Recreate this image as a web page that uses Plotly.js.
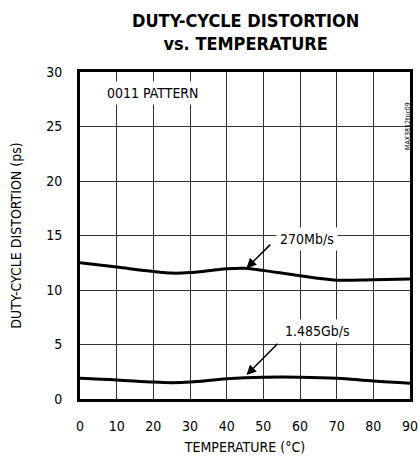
<!DOCTYPE html>
<html>
<head>
<meta charset="utf-8">
<script src="https://cdn.plot.ly/plotly-3.0.1.min.js"></script>
<style>html,body{margin:0;padding:0;background:#fff;}#chart{width:419px;height:460px;}</style>
</head>
<body>
<div id="chart"></div>
<script>
const temperature = [0, 10, 20, 25, 30, 40, 45, 50, 60, 70, 80, 90];
const dcd270 = [12.5, 12.1, 11.7, 11.55, 11.6, 11.95, 12.0, 11.8, 11.3, 10.9, 10.95, 11.0];
const dcd1485 = [1.9, 1.75, 1.55, 1.5, 1.55, 1.85, 1.95, 2.0, 2.0, 1.9, 1.65, 1.45];
const xTicks = [0, 10, 20, 30, 40, 50, 60, 70, 80, 90];
const yTicks = [0, 5, 10, 15, 20, 25, 30];

const FONT = "'Liberation Sans Narrow', 'DejaVu Sans Condensed', Roboto, sans-serif";

const traces = [
  {x: temperature, y: dcd270, mode: 'lines', line: {color: '#000', width: 3, shape: 'spline', smoothing: 1}, hoverinfo: 'skip'},
  {x: temperature, y: dcd1485, mode: 'lines', line: {color: '#000', width: 3, shape: 'spline', smoothing: 1}, hoverinfo: 'skip'}
];

const PLOT_TOP = 72, PLOT_BOTTOM = 399;
const pyToPaper = py => (PLOT_BOTTOM - py) / (PLOT_BOTTOM - PLOT_TOP);

const layout = {
  width: 419, height: 460,
  margin: {l: 80, r: 9, t: 72, b: 61},
  paper_bgcolor: '#fff', plot_bgcolor: '#fff',
  showlegend: false,
  font: {family: FONT, color: '#000', size: 14},
  xaxis: {
    range: [0, 90], tickvals: xTicks, ticktext: xTicks.map(String),
    showgrid: true, gridcolor: '#333', gridwidth: 1,
    showline: true, linecolor: '#000', linewidth: 3, mirror: true,
    ticks: '', zeroline: false, tickfont: {size: 14}, ticklabelstandoff: 12,
    title: {text: 'TEMPERATURE (°C)', font: {size: 14}, standoff: 10}
  },
  yaxis: {
    range: [0, 30], tickvals: yTicks, ticktext: yTicks.map(String),
    showgrid: true, gridcolor: '#333', gridwidth: 1,
    showline: true, linecolor: '#000', linewidth: 3, mirror: true,
    ticks: '', zeroline: false, tickfont: {size: 14}, ticklabelstandoff: 12,
    title: {text: 'DUTY-CYCLE DISTORTION (ps)', font: {size: 14}, standoff: 22}
  },
  annotations: [
    {x: 0.5, y: pyToPaper(8), xref: 'paper', yref: 'paper', xanchor: 'center', yanchor: 'top',
     text: '<b>DUTY-CYCLE DISTORTION<br>vs. TEMPERATURE</b>', showarrow: false,
     font: {family: FONT, size: 18, color: '#000'}},
    {x: 6.3, y: 28.1, xref: 'x', yref: 'y', text: '0011 PATTERN', showarrow: false,
     xanchor: 'left', yanchor: 'middle', bgcolor: '#fff', borderpad: 3, font: {size: 14}},
    {x: 45.4, y: 12.0, ax: 52.3, ay: 14.3, xref: 'x', yref: 'y', axref: 'x', ayref: 'y',
     text: '', showarrow: true, arrowhead: 2, arrowsize: 1.3, arrowwidth: 1.5, arrowcolor: '#000'},
    {x: 62, y: 14.65, xref: 'x', yref: 'y', text: '270Mb/s', showarrow: false,
     bgcolor: '#fff', borderpad: 3, font: {size: 14}},
    {x: 45.4, y: 2.2, ax: 54.3, ay: 5.2, xref: 'x', yref: 'y', axref: 'x', ayref: 'y',
     text: '', showarrow: true, arrowhead: 2, arrowsize: 1.3, arrowwidth: 1.5, arrowcolor: '#000'},
    {x: 64.7, y: 6.27, xref: 'x', yref: 'y', text: '1.485Gb/s', showarrow: false,
     bgcolor: '#fff', borderpad: 3, font: {size: 14}},
    {x: (414 - 80) / (419 - 80 - 9), y: pyToPaper(100), xref: 'paper', yref: 'paper',
     text: 'MAX3812toc09', showarrow: false, textangle: -90, font: {size: 7, color: '#000'}}
  ]
};

Plotly.newPlot('chart', traces, layout, {staticPlot: true});
</script>
</body>
</html>
